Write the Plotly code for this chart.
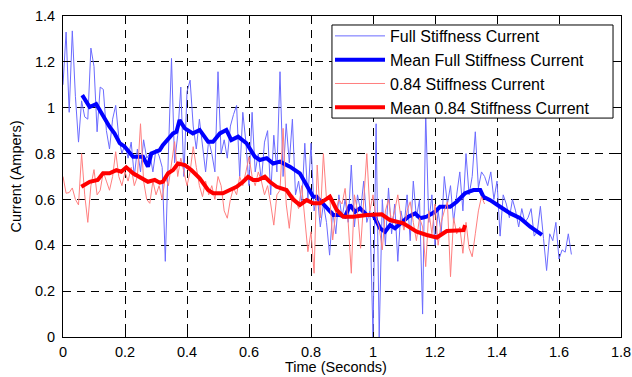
import numpy as np
import plotly.graph_objects as go

# ---- data ----
full_t = [round(i * 0.01, 2) for i in range(165)]
full_current = [
    1.10, 1.33, 0.98, 1.335, 1.05, 0.85, 1.03, 0.96, 0.95, 1.26,
    1.18, 0.895, 1.09, 1.08, 0.90, 0.82, 0.95, 1.01, 0.87, 0.80,
    0.84, 0.78, 0.85, 0.70, 0.82, 0.72, 0.86, 0.78, 0.80, 0.72,
    0.82, 0.79, 0.74, 0.33, 0.80, 1.215, 0.76, 0.88, 1.09, 0.70,
    1.07, 1.12, 0.92, 0.82, 0.95, 0.84, 0.72, 0.86, 0.80, 0.72,
    1.157, 0.80, 0.86, 0.78, 0.92, 0.97, 1.01, 0.70, 0.98, 0.85,
    0.66, 0.98, 0.72, 0.80, 0.68, 0.85, 0.90, 0.62, 0.88, 0.72,
    1.157, 0.70, 0.93, 0.76, 0.95, 0.62, 0.68, 0.58, 0.845, 0.60,
    0.845, 0.55, 0.62, 0.48, 0.58, 0.50, 0.357, 0.55, 0.45, 0.62,
    0.52, 0.60, 0.50, 0.75, 0.48, 0.62, 0.55, 0.68, 0.50, 0.55,
    0.00, 0.93, 0.00, 0.60, 0.40, 0.65, 0.45, 0.58, 0.33, 0.55,
    0.48, 0.62, 0.42, 0.68, 0.52, 0.60, 0.10, 0.98, 0.50, 0.62,
    0.40, 0.55, 0.45, 0.70, 0.58, 0.66, 0.50, 0.62, 0.72, 0.55,
    0.80, 0.62, 0.70, 0.895, 0.65, 0.72, 0.70, 0.66, 0.72, 0.60,
    0.68, 0.44, 0.62, 0.58, 0.52, 0.60, 0.55, 0.48, 0.56, 0.50,
    0.52, 0.56, 0.44, 0.46, 0.57, 0.43, 0.29, 0.45, 0.42, 0.50,
    0.34, 0.38, 0.37, 0.45, 0.36,
]

red_t = [round(i * 0.01, 2) for i in range(137)]
red_current = [
    0.70, 0.627, 0.63, 0.65, 0.60, 0.576, 0.80, 0.62, 0.50, 0.66,
    0.73, 0.62, 0.64, 0.72, 0.68, 0.64, 0.70, 0.808, 0.70, 0.66,
    0.72, 0.68, 0.74, 0.66, 0.70, 0.93, 0.68, 0.60, 0.583, 0.68,
    0.62, 0.66, 0.60, 0.70, 0.66, 0.75, 0.852, 0.70, 0.78, 0.72,
    0.66, 0.72, 0.83, 0.74, 0.66, 0.612, 0.68, 0.62, 0.66, 0.60,
    0.70, 0.66, 0.55, 0.518, 0.60, 0.65, 0.62, 0.70, 0.66, 0.72,
    0.786, 0.70, 0.66, 0.72, 0.68, 0.62, 0.66, 0.58, 0.488, 0.62,
    0.64, 0.91, 0.58, 0.474, 0.62, 0.60, 0.56, 0.66, 0.52, 0.372,
    0.459, 0.278, 0.75, 0.52, 0.80, 0.60, 0.62, 0.423, 0.55, 0.60,
    0.58, 0.648, 0.50, 0.278, 0.62, 0.55, 0.387, 0.60, 0.80, 0.55,
    0.62, 0.52, 0.48, 0.38, 0.55, 0.60, 0.50, 0.55, 0.62, 0.52,
    0.466, 0.55, 0.59, 0.50, 0.42, 0.52, 0.48, 0.307, 0.55, 0.45,
    0.58, 0.40, 0.50, 0.55, 0.59, 0.263, 0.52, 0.45, 0.48, 0.365,
    0.50, 0.387, 0.35, 0.45, 0.55, 0.612, 0.58,
]

mean_full_t = [0.062, 0.086, 0.107, 0.118, 0.15, 0.166, 0.183, 0.199, 0.226, 0.258,
               0.274, 0.285, 0.312, 0.322, 0.355, 0.366, 0.376, 0.393, 0.419, 0.441,
               0.468, 0.484, 0.506, 0.527, 0.543, 0.565, 0.592, 0.619, 0.635, 0.657,
               0.678, 0.70, 0.732, 0.764, 0.786, 0.807, 0.818, 0.85, 0.872, 0.893,
               0.91, 0.926, 0.942, 0.958, 0.98, 1.001, 1.023, 1.039, 1.055, 1.071,
               1.098, 1.114, 1.136, 1.152, 1.173, 1.20, 1.216, 1.249, 1.27, 1.297,
               1.324, 1.346, 1.356, 1.378, 1.41, 1.443, 1.475, 1.507, 1.545]
mean_full = [1.055, 1.003, 1.016, 0.99, 0.917, 0.888, 0.845, 0.83, 0.786, 0.786,
             0.743, 0.80, 0.815, 0.837, 0.888, 0.895, 0.946, 0.91, 0.888, 0.903,
             0.852, 0.852, 0.888, 0.903, 0.859, 0.874, 0.845, 0.786, 0.772, 0.78,
             0.757, 0.765, 0.743, 0.714, 0.66, 0.612, 0.612, 0.561, 0.532, 0.532,
             0.525, 0.576, 0.546, 0.561, 0.532, 0.532, 0.474, 0.459, 0.488, 0.474,
             0.503, 0.525, 0.539, 0.518, 0.525, 0.546, 0.568, 0.568, 0.59, 0.627,
             0.641, 0.641, 0.612, 0.597, 0.568, 0.539, 0.518, 0.481, 0.445]

mean_red_t = [0.059, 0.086, 0.112, 0.129, 0.15, 0.172, 0.188, 0.204, 0.226, 0.247,
              0.274, 0.296, 0.312, 0.322, 0.339, 0.355, 0.371, 0.393, 0.414, 0.441,
              0.468, 0.484, 0.516, 0.538, 0.56, 0.581, 0.597, 0.613, 0.629, 0.651,
              0.667, 0.689, 0.721, 0.742, 0.764, 0.786, 0.807, 0.829, 0.861, 0.883,
              0.904, 0.936, 0.98, 1.028, 1.055, 1.098, 1.141, 1.173, 1.206, 1.238,
              1.292, 1.297]
mean_red = [0.655, 0.677, 0.685, 0.714, 0.714, 0.728, 0.721, 0.74, 0.714, 0.699,
            0.677, 0.685, 0.673, 0.677, 0.714, 0.728, 0.757, 0.75, 0.728, 0.692,
            0.641, 0.627, 0.627, 0.641, 0.655, 0.677, 0.699, 0.685, 0.685, 0.699,
            0.677, 0.655, 0.641, 0.60, 0.576, 0.597, 0.583, 0.583, 0.612, 0.554,
            0.525, 0.525, 0.532, 0.535, 0.51, 0.496, 0.459, 0.445, 0.434, 0.462,
            0.466, 0.488]

x_ticks = [0, 0.2, 0.4, 0.6, 0.8, 1, 1.2, 1.4, 1.6, 1.8]
x_ticklabels = ["0", "0.2", "0.4", "0.6", "0.8", "1", "1.2", "1.4", "1.6", "1.8"]
y_ticks = [0, 0.2, 0.4, 0.6, 0.8, 1, 1.2, 1.4]
y_ticklabels = ["0", "0.2", "0.4", "0.6", "0.8", "1", "1.2", "1.4"]

x_title = "Time (Seconds)"
y_title = "Current (Ampers)"

FONT = "Liberation Sans, Arial, sans-serif"

fig = go.Figure()
fig.add_trace(go.Scatter(x=full_t, y=full_current, mode="lines",
                         name="Full Stiffness Current",
                         line=dict(color="#6b6bff", width=1)))
fig.add_trace(go.Scatter(x=mean_full_t, y=mean_full, mode="lines",
                         name="Mean Full Stiffness Current",
                         line=dict(color="#0000ff", width=4)))
fig.add_trace(go.Scatter(x=red_t, y=red_current, mode="lines",
                         name="0.84 Stiffness Current",
                         line=dict(color="#ff7f7f", width=1)))
fig.add_trace(go.Scatter(x=mean_red_t, y=mean_red, mode="lines",
                         name="Mean 0.84 Stiffness Current",
                         line=dict(color="#ff0000", width=4)))

axis_common = dict(
    showline=True, linecolor="black", linewidth=1, mirror="ticks",
    ticks="inside", ticklen=5, tickcolor="black",
    showgrid=True, gridcolor="#000000", gridwidth=1, griddash="8px,6px",
    zeroline=False, automargin=False,
    tickfont=dict(family=FONT, size=14.5, color="black"),
)

fig.update_xaxes(range=[0, 1.8], tickvals=x_ticks, ticktext=x_ticklabels,
                 ticklabelstandoff=2, **axis_common)
fig.update_yaxes(range=[0, 1.4], tickvals=y_ticks, ticktext=y_ticklabels,
                 ticklabelstandoff=4, **axis_common)

# axis titles placed as annotations for exact positioning
fig.add_annotation(text=x_title, xref="paper", yref="paper", x=0.49, y=-0.0935,
                   xanchor="center", yanchor="middle", showarrow=False,
                   font=dict(family=FONT, size=14.5, color="black"))
fig.add_annotation(text=y_title, xref="paper", yref="paper", x=-0.086, y=0.5,
                   xanchor="center", yanchor="middle", showarrow=False, textangle=-90,
                   font=dict(family=FONT, size=14.5, color="black"))

# legend frame (white box with black border) drawn under the legend
fig.add_shape(type="rect", xref="paper", yref="paper",
              x0=0.482, x1=0.9857, y0=0.682, y1=0.972,
              fillcolor="white", line=dict(color="black", width=1), layer="above")

fig.update_layout(
    width=632, height=377,
    margin=dict(l=63, r=11, t=16, b=40),
    paper_bgcolor="white", plot_bgcolor="white",
    font=dict(family=FONT, size=14, color="black"),
    legend=dict(x=0.4785, y=0.9907, xanchor="left", yanchor="top",
                bgcolor="rgba(0,0,0,0)", borderwidth=0,
                font=dict(family=FONT, size=16, color="black"),
                itemwidth=50, tracegroupgap=0),
    showlegend=True,
)

fig.write_html("out.html")
